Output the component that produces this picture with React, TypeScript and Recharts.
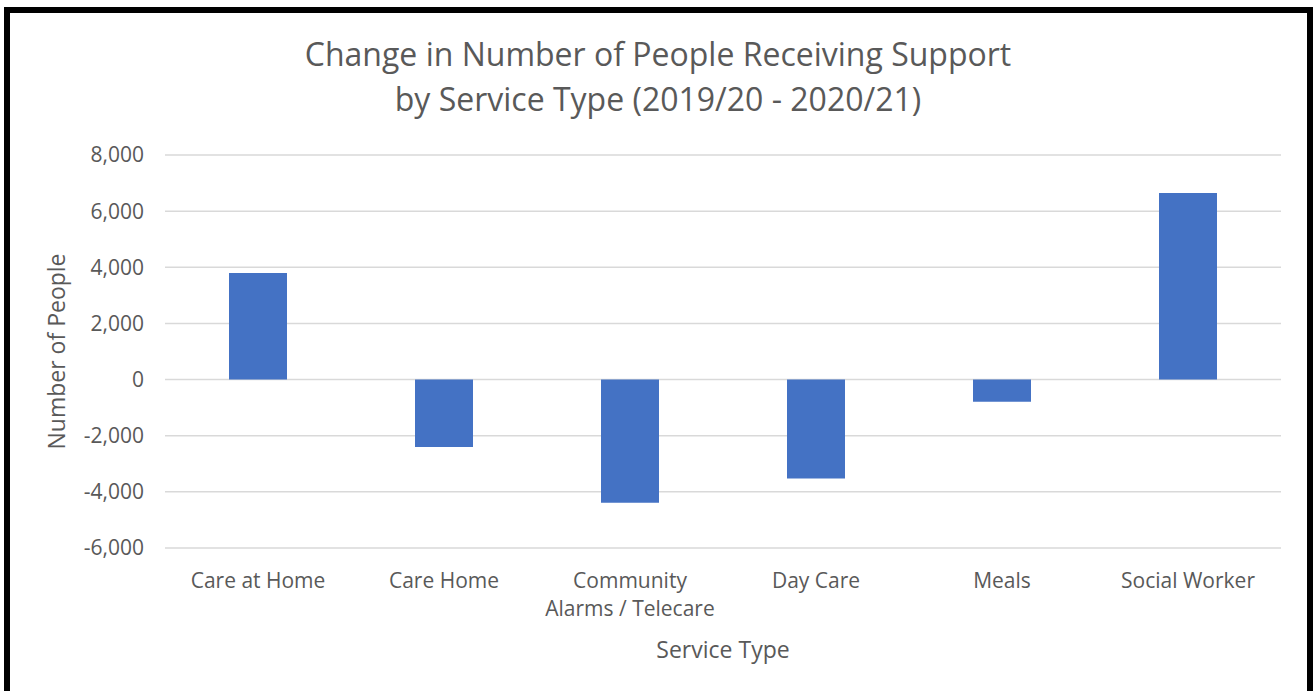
import React from "react";
import { BarChart, Bar, XAxis, YAxis, CartesianGrid, Label } from "recharts";

const categories = ["Care at Home", "Care Home", "Community Alarms / Telecare", "Day Care", "Meals", "Social Worker"];
const changeValues = [3800, -2400, -4390, -3520, -790, 6650];
const yTicks = [-6000, -4000, -2000, 0, 2000, 4000, 6000, 8000];
const titleLines = ["Change in Number of People Receiving Support", "by Service Type (2019/20 - 2020/21)"];
const tickLines: Record<string, string[]> = {
  "Community Alarms / Telecare": ["Community", "Alarms / Telecare"],
};

const data = categories.map((c, i) => ({ name: c, value: changeValues[i] }));

const FONT = "'Open Sans', sans-serif";
const GREY = "#595959";

const XTick = (props: any) => {
  const { x, y, payload } = props;
  const lines = tickLines[payload.value] || [payload.value];
  return (
    <g>
      {lines.map((l: string, i: number) => (
        <text
          key={i}
          x={x}
          y={y + 32 + i * 28}
          textAnchor="middle"
          fill={GREY}
          fontSize={21}
          fontFamily={FONT}
        >
          {l}
        </text>
      ))}
    </g>
  );
};

export default function App() {
  return (
    <div style={{ position: "fixed", left: 0, top: 0, width: 1313, height: 691, background: "#fff", overflow: "hidden" }}>
      <div
        style={{
          position: "absolute",
          left: 4,
          top: 7,
          width: 1309 - 12,
          height: 700,
          border: "6px solid #000",
          borderBottom: "none",
        }}
      />
      <div
        style={{
          position: "absolute",
          left: 0,
          top: 31,
          width: 1316,
          textAlign: "center",
          fontFamily: FONT,
          fontSize: 32,
          lineHeight: "45px",
          color: GREY,
        }}
      >
        {titleLines.map((t, i) => (
          <div key={i}>{t}</div>
        ))}
      </div>
      <div style={{ position: "absolute", left: 0, top: 0 }}>
        <BarChart
          width={1313}
          height={691}
          data={data}
          margin={{ top: 155, right: 32, bottom: 143 - 110, left: 57 }}
          barSize={58}
        >
          <CartesianGrid vertical={false} stroke="#d9d9d9" strokeWidth={1.5} />
          <XAxis
            dataKey="name"
            axisLine={false}
            tickLine={false}
            height={110}
            tick={<XTick />}
            interval={0}
          >
            <Label
              value="Service Type"
              position="insideBottom"
              offset={0}
              style={{ fill: GREY, fontSize: 23, fontFamily: FONT }}
            />
          </XAxis>
          <YAxis
            width={108}
            domain={[-6000, 8000]}
            ticks={yTicks}
            axisLine={false}
            tickLine={false}
            tickMargin={15}
            tickFormatter={(v: number) => v.toLocaleString("en-US")}
            tick={{ fill: GREY, fontSize: 21, fontFamily: FONT }}
          >
            <Label
              value="Number of People"
              angle={-90}
              position="insideLeft"
              offset={0}
              style={{ fill: GREY, fontSize: 23, fontFamily: FONT, textAnchor: "middle" }}
            />
          </YAxis>
          <Bar dataKey="value" fill="#4472C4" isAnimationActive={false} />
        </BarChart>
      </div>
    </div>
  );
}
